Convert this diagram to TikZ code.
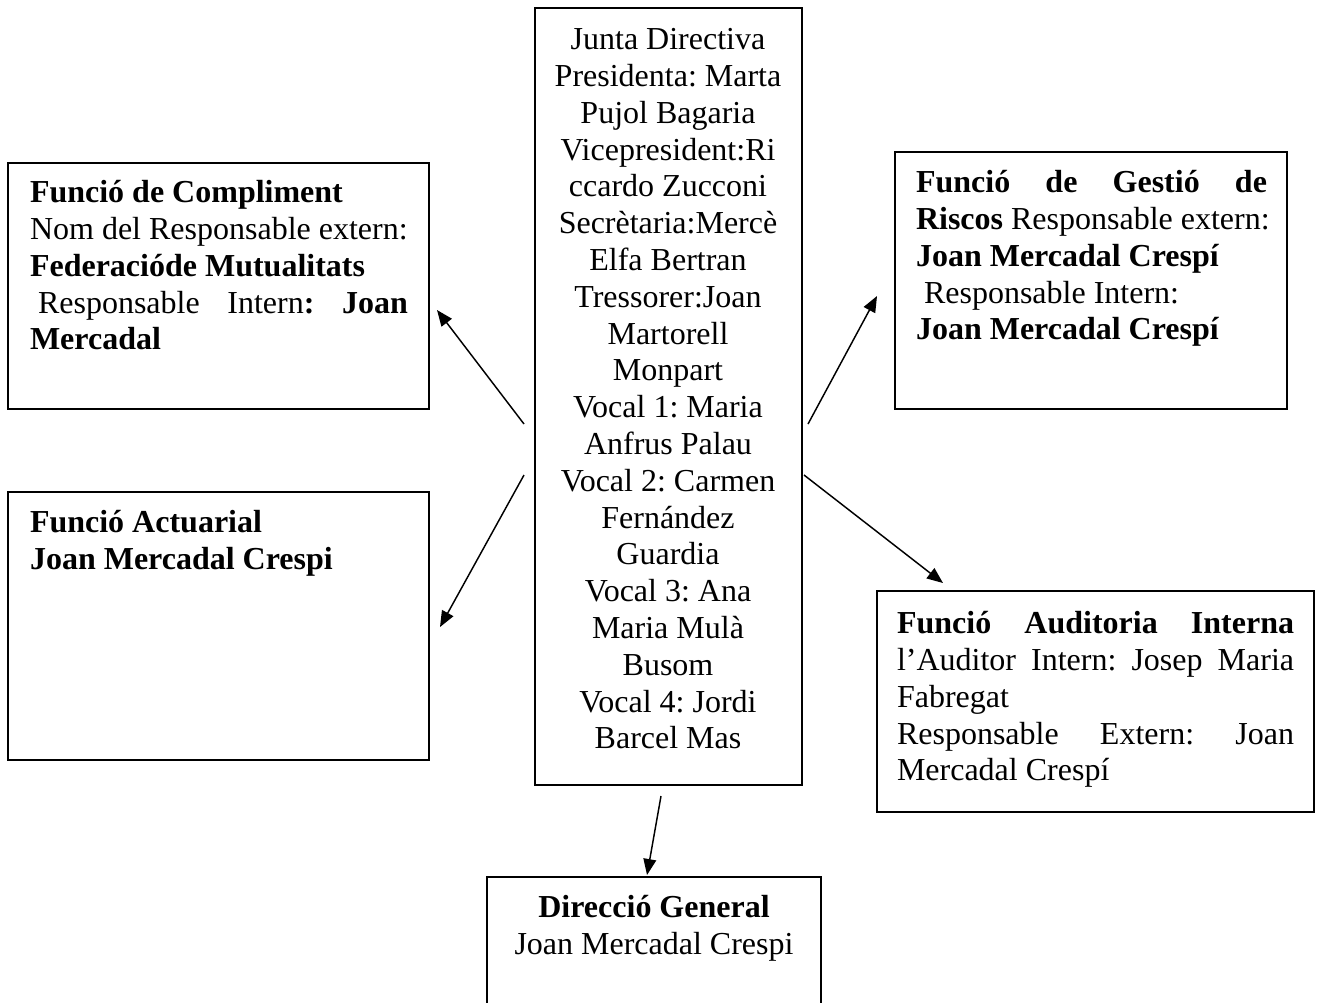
\documentclass[tikz,border=0pt]{standalone}
\usepackage{fontspec}
\setmainfont{Liberation Serif}
\usetikzlibrary{calc,arrows.meta}
\def\pxu{0.375pt}
\newcommand{\jl}[2]{{\spaceskip=0pt\xspaceskip=0pt\makebox[#1][s]{#2}}}
\tikzset{
  box/.style={draw, line width=0.65pt, rectangle, anchor=north west, inner sep=0pt, outer sep=0pt},
  txt/.style={inner sep=0pt, outer sep=0pt, font=\fontsize{12}{13.8}\selectfont\frenchspacing},
  arr/.style={line width=0.55pt, -{Triangle[length=6pt,width=4.8pt]}}
}
\begin{document}
\begin{tikzpicture}[x=0.375pt,y=-0.375pt]
\clip (0,0) rectangle (1321,1002);
\fill[white] (0,0) rectangle (1321,1002);
% boxes
\node[box, minimum width=267*\pxu, minimum height=777*\pxu] (jd) at (535,8) {};
\node[box, minimum width=421*\pxu, minimum height=246*\pxu] (comp) at (8,163) {};
\node[box, minimum width=421*\pxu, minimum height=268*\pxu] (act) at (8,492) {};
\node[box, minimum width=392*\pxu, minimum height=257*\pxu] (risc) at (895,152) {};
\node[box, minimum width=437*\pxu, minimum height=221*\pxu] (aud) at (877,591) {};
\node[box, minimum width=334*\pxu, minimum height=140*\pxu] (dir) at (487,877) {};
% texts
\node[txt, anchor=north, align=flush center] (tjd) at (668,24) {\strut Junta Directiva\\
Presidenta: Marta\\ Pujol Bagaria\\ Vicepresident:Ri\\ ccardo Zucconi\\
Secrètaria:Mercè\\ Elfa Bertran\\ Tressorer:Joan\\ Martorell\\ Monpart\\
Vocal 1: Maria\\ Anfrus Palau\\ Vocal 2: Carmen\\ Fernández\\ Guardia\\
Vocal 3: Ana\\ Maria Mulà\\ Busom\\ Vocal 4: Jordi\\ Barcel Mas};
\node[txt, anchor=north west, text width=160pt, align=flush left] (tcomp) at (30,177) {\strut\textbf{Funció de Compliment}\\
Nom del Responsable extern:\\
\textbf{Federacióde Mutualitats}\\
\jl{141.75pt}{\hspace{0.25em}Responsable Intern\textbf{: Joan}}\\
\textbf{Mercadal}};
\node[txt, anchor=north west, text width=160pt, align=flush left] (tact) at (30,507) {\strut\textbf{Funció Actuarial}\\
\textbf{Joan Mercadal Crespi}};
\node[txt, anchor=north west, text width=160pt, align=flush left] (trisc) at (916,167) {\strut\jl{131.6pt}{\textbf{Funció de Gestió de}}\\
\textbf{Riscos} Responsable extern:\\
\textbf{Joan Mercadal Crespí}\\
\hspace{0.25em}Responsable Intern:\\
\textbf{Joan Mercadal Crespí}};
\node[txt, anchor=north west, text width=160pt, align=flush left] (taud) at (897,608) {\strut\jl{148.9pt}{\textbf{Funció Auditoria Interna}}\\
\jl{148.9pt}{l’Auditor Intern: Josep Maria}\\
Fabregat\\
\jl{148.9pt}{Responsable Extern: Joan}\\
Mercadal Crespí};
\node[txt, anchor=north, align=flush center] (tdir) at (654,892) {\strut\textbf{Direcció General}\\ Joan Mercadal Crespi};
% connectors
\draw[arr] ($(jd.north west)+(-11,416)$) -- ($(comp.north east)+(8,147)$);
\draw[arr] ($(jd.north west)+(-11,467)$) -- ($(act.north east)+(11,135)$);
\draw[arr] ($(jd.north east)+(6,416)$) -- ($(risc.north west)+(-18,144)$);
\draw[arr] ($(jd.north east)+(2,467)$) -- ($(aud.north west)+(66,-8)$);
\draw[arr] ($(jd.south west)+(126,11)$) -- ($(dir.north west)+(160,-2)$);
\end{tikzpicture}
\end{document}
